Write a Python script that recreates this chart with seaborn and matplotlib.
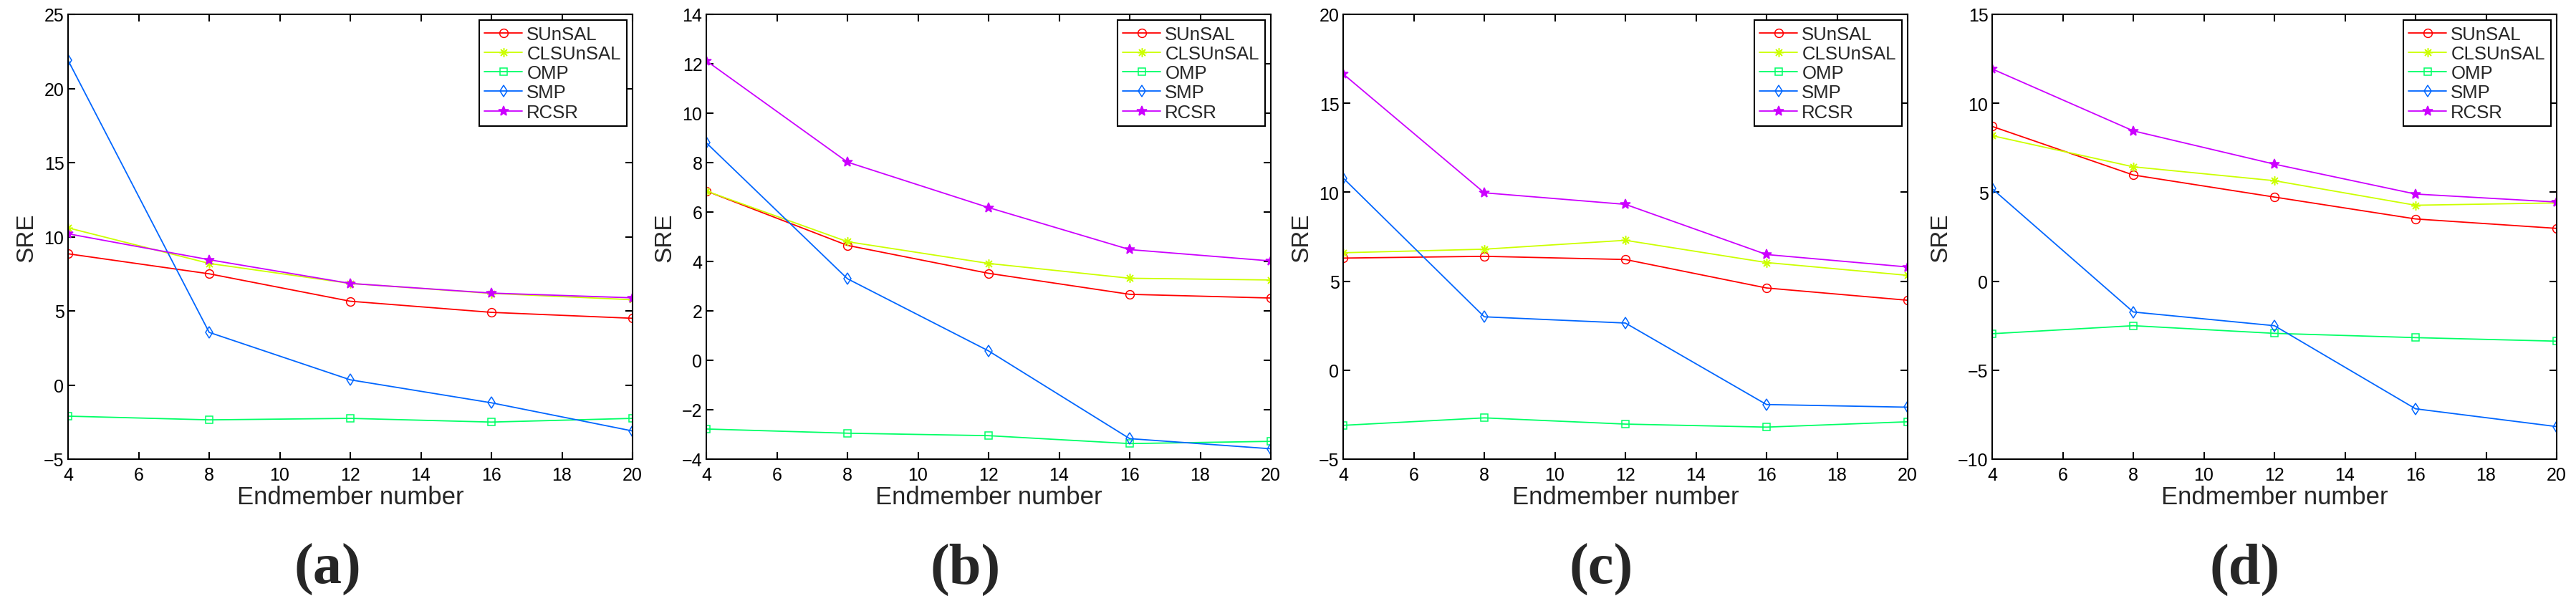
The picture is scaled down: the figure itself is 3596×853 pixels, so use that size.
import numpy as np
import pandas as pd
import matplotlib
matplotlib.use("Agg")
import matplotlib.pyplot as plt
import seaborn as sns

# ---------------- data ----------------
endmembers = [4, 8, 12, 16, 20]
methods = ["SUnSAL", "CLSUnSAL", "OMP", "SMP", "RCSR"]
panel_labels = ["(a)", "(b)", "(c)", "(d)"]

a_sunsal = [8.85, 7.50, 5.65, 4.90, 4.50]
a_clsunsal = [10.60, 8.20, 6.85, 6.18, 5.75]
a_omp = [-2.10, -2.35, -2.25, -2.50, -2.25]
a_smp = [21.90, 3.55, 0.35, -1.20, -3.10]
a_rcsr = [10.20, 8.45, 6.85, 6.20, 5.88]

b_sunsal = [6.85, 4.65, 3.52, 2.67, 2.52]
b_clsunsal = [6.85, 4.80, 3.92, 3.32, 3.25]
b_omp = [-2.78, -2.95, -3.05, -3.37, -3.28]
b_smp = [8.80, 3.30, 0.38, -3.17, -3.58]
b_rcsr = [12.12, 8.02, 6.18, 4.48, 4.02]

c_sunsal = [6.30, 6.40, 6.22, 4.62, 3.93]
c_clsunsal = [6.60, 6.80, 7.30, 6.05, 5.33]
c_omp = [-3.10, -2.68, -3.03, -3.20, -2.90]
c_smp = [10.80, 3.00, 2.65, -1.93, -2.08]
c_rcsr = [16.65, 9.97, 9.32, 6.50, 5.80]

d_sunsal = [8.70, 5.97, 4.73, 3.50, 2.97]
d_clsunsal = [8.18, 6.43, 5.65, 4.27, 4.40]
d_omp = [-2.95, -2.50, -2.93, -3.17, -3.37]
d_smp = [5.20, -1.73, -2.50, -7.17, -8.17]
d_rcsr = [11.93, 8.45, 6.58, 4.90, 4.45]

panels = [
    [a_sunsal, a_clsunsal, a_omp, a_smp, a_rcsr],
    [b_sunsal, b_clsunsal, b_omp, b_smp, b_rcsr],
    [c_sunsal, c_clsunsal, c_omp, c_smp, c_rcsr],
    [d_sunsal, d_clsunsal, d_omp, d_smp, d_rcsr],
]
ylims = [(-5, 25), (-4, 14), (-5, 20), (-10, 15)]
ystep = [5, 2, 5, 5]

# ---------------- style ----------------
colors = ["#FF0000", "#CCFF00", "#00FF66", "#0066FF", "#CC00FF"]
markers = ["o", (8, 2, 0), "s", "d", "*"]
msizes = [8.5, 9, 6.5, 8, 10]
filled = [False, False, False, False, True]

sns.set_theme(style="ticks")
plt.rcParams["font.family"] = ["Liberation Sans", "DejaVu Sans"]
plt.rcParams["axes.unicode_minus"] = True

fig = plt.figure(figsize=(35.96, 8.54), dpi=100)
W, H = 3596.0, 854.0
ax_lefts = [95, 986, 1875, 2781]
ax_w = 788
ax_top, ax_bot = 21, 642
label_x = [457, 1348, 2235, 3134]

for i, series in enumerate(panels):
    ax = fig.add_axes([ax_lefts[i] / W, 1 - ax_bot / H, ax_w / W, (ax_bot - ax_top) / H])
    for j, vals in enumerate(series):
        df = pd.DataFrame({"Endmember number": endmembers, "SRE": vals})
        sns.lineplot(
            data=df, x="Endmember number", y="SRE", ax=ax,
            color=colors[j], marker=markers[j], markersize=msizes[j],
            markerfacecolor=colors[j] if filled[j] else "none",
            markeredgecolor=colors[j], markeredgewidth=1.1,
            linewidth=1.3, label=methods[j], errorbar=None,
        )
    ax.set_xlim(4, 20)
    ax.set_ylim(*ylims[i])
    ax.set_xticks(np.arange(4, 21, 2))
    ax.set_yticks(np.arange(ylims[i][0], ylims[i][1] + 0.01, ystep[i]))
    for s in ax.spines.values():
        s.set_visible(True)
        s.set_linewidth(1.5)
        s.set_color("black")
    ax.tick_params(direction="in", top=True, right=True, length=7, width=1.5,
                   labelsize=18, colors="black")
    ax.tick_params(axis="x", pad=7)
    ax.tick_params(axis="y", pad=4)
    ax.set_xlabel("Endmember number", fontsize=25, labelpad=2)
    ax.set_ylabel("SRE", fontsize=24, labelpad=6)
    leg = ax.legend(loc="upper right", fontsize=18.5, frameon=True, fancybox=False,
                    framealpha=1, edgecolor="black", borderpad=0.3,
                    labelspacing=0.12, handlelength=2.05, handletextpad=0.25,
                    borderaxespad=0.33)
    leg.get_frame().set_linewidth(1.5)
    fig.text(label_x[i] / W, 1 - 795 / H, panel_labels[i], ha="center", va="center",
             fontsize=58, fontweight="bold", family=["Liberation Serif", "DejaVu Serif"])

fig.savefig("out.png", dpi=100, facecolor="white")
